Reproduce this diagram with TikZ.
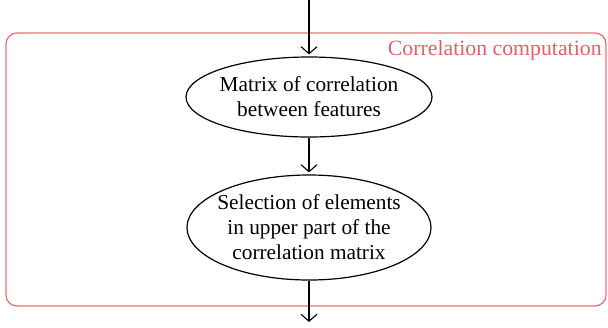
\documentclass[tikz,border=0pt]{standalone}
\usepackage{fontspec}
\setmainfont{Liberation Serif}
\usetikzlibrary{shapes.geometric,arrows.meta}
\definecolor{grpred}{RGB}{232,92,108}
\definecolor{grpline}{RGB}{236,112,122}
\begin{document}
\begin{tikzpicture}[x=0.5pt,y=-0.5pt,
  proc/.style={ellipse,draw=black,line width=0.6pt,align=center,inner ysep=-0.5pt,
    font=\fontsize{10.65}{12.5}\selectfont},
  flow/.style={draw=black,line width=0.55pt,-{Straight Barb[length=3.5pt,width=8pt]}},
  grp/.style={draw=grpline,line width=0.65pt,rounded corners=5.5pt}]
\useasboundingbox (0,0) rectangle (608,327);
\draw[grp] (6,33) rectangle (606,306);
\node[anchor=base east,text=grpred,font=\fontsize{10.9}{13}\selectfont,inner sep=0pt] (lbl) at (602,55) {Correlation computation};
\node[proc,inner xsep=-1.5pt,minimum width=123pt,minimum height=40pt] (m) at (309,97) {Matrix of correlation\\between features};
\node[proc,inner xsep=-2.7pt,minimum width=122pt,minimum height=52.5pt] (s) at (309,227.5) {Selection of elements\\in upper part of the\\correlation matrix};
\coordinate (in) at (309,0);
\coordinate (out) at (309,322);
\draw[flow] (in) -- ([yshift=1pt]m.north);
\draw[flow] (m) -- ([yshift=1pt]s.north);
\draw[flow] (s) -- (out);
\end{tikzpicture}
\end{document}
